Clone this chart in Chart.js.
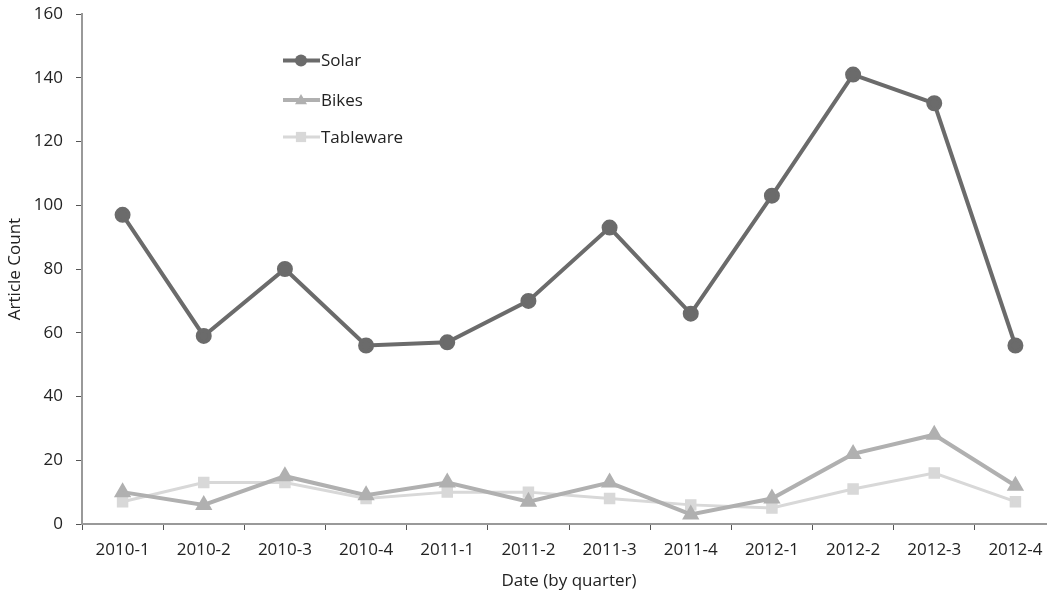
<!DOCTYPE html>
<html><head><meta charset="utf-8">
<script src="https://cdn.jsdelivr.net/npm/chart.js@4"></script>
<style>
html,body{margin:0;padding:0;overflow:hidden;background:#fff;width:1047px;height:591px;}
#wrap{position:absolute;left:0;top:0;width:1066px;height:591px;}
#c{display:block;width:1066px;height:591px;}
</style></head><body>
<div id="wrap"><canvas id="c" width="1066" height="591" style="width:1066px;height:591px"></canvas></div>
<script>
const categories = ["2010-1","2010-2","2010-3","2010-4","2011-1","2011-2","2011-3","2011-4","2012-1","2012-2","2012-3","2012-4"];
const solar = [97,59,80,56,57,70,93,66,103,141,132,56];
const bikes = [10,6,15,9,13,7,13,3,8,22,28,12];
const tableware = [7,13,13,8,10,10,8,6,5,11,16,7];
const yTicks = [0,20,40,60,80,100,120,140,160];

const FONT = "'Open Sans', 'Liberation Sans', sans-serif";
const FS = 17;

const legendPlugin = {
  id: 'insideLegend',
  afterDraw(chart) {
    const ctx = chart.ctx;
    const rows = [60.5, 100, 137];
    chart.data.datasets.forEach((ds, i) => {
      const y = rows[i];
      ctx.save();
      ctx.strokeStyle = ds.borderColor;
      ctx.lineWidth = ds.borderWidth;
      ctx.beginPath(); ctx.moveTo(283, y); ctx.lineTo(320, y); ctx.stroke();
      ctx.fillStyle = ds.pointBackgroundColor;
      const r = ds.pointRadius;
      ctx.beginPath();
      if (ds.pointStyle === 'circle') { ctx.arc(301, y, r, 0, Math.PI*2); }
      else if (ds.pointStyle === 'triangle') { ctx.moveTo(301, y - r); ctx.lineTo(301 + r, y + r*0.7); ctx.lineTo(301 - r, y + r*0.7); ctx.closePath(); }
      else { ctx.rect(301 - r*0.85, y - r*0.85, r*1.7, r*1.7); }
      ctx.fill();
      ctx.fillStyle = '#222';
      ctx.font = FS + "px " + FONT;
      ctx.textBaseline = 'middle';
      ctx.fillText(ds.label, 321, y + 1);
      ctx.restore();
    });
  }
};

new Chart(document.getElementById('c'), {
  type: 'line',
  data: {
    labels: categories,
    datasets: [
      {label:'Solar', data: solar, borderColor:'#6b6b6b', backgroundColor:'#6b6b6b', pointBackgroundColor:'#6b6b6b', pointBorderColor:'#6b6b6b', borderWidth:4, pointStyle:'circle', pointRadius:6, tension:0},
      {label:'Bikes', data: bikes, borderColor:'#b0b0b0', backgroundColor:'#b0b0b0', pointBackgroundColor:'#b0b0b0', pointBorderColor:'#b0b0b0', borderWidth:4, pointStyle:'triangle', pointRadius:6, tension:0},
      {label:'Tableware', data: tableware, borderColor:'#d8d8d8', backgroundColor:'#d8d8d8', pointBackgroundColor:'#d8d8d8', pointBorderColor:'#d8d8d8', borderWidth:3, pointStyle:'rect', pointRadius:6, tension:0}
    ]
  },
  options: {
    responsive: false,
    maintainAspectRatio: false,
    animation: false,
    layout: { padding: { top: 0, right: 0, left: 5, bottom: 0 } },
    plugins: { legend: { display:false }, tooltip: { enabled:false } },
    scales: {
      x: {
        type:'category', offset:true,
        afterFit(scale){ scale.height = 67; scale.paddingLeft = 0; scale.paddingRight = 0; },
        grid: { offset:true, drawOnChartArea:false, drawTicks:true, tickLength:6, color:'#555', lineWidth:1 },
        border: { display:true, color:'#999', width:2 },
        ticks: { color:'#222', font:{ size:FS, family:FONT }, padding:10, maxRotation:0, autoSkip:false },
        title: { display:true, text:'Date (by quarter)', color:'#222', font:{ size:FS, family:FONT }, padding:{top:8, bottom:0} }
      },
      y: {
        min:0, max:160,
        afterBuildTicks(axis){ axis.ticks = yTicks.map(v => ({value:v})); },
        afterFit(scale){ scale.width = 77; scale.paddingTop = 14; scale.paddingBottom = 0; },
        grid: { drawOnChartArea:false, drawTicks:true, tickLength:6, color:'#555' },
        border: { display:true, color:'#999', width:2 },
        ticks: { color:'#222', font:{ size:FS, family:FONT }, padding:13 },
        title: { display:true, text:'Article Count', color:'#222', font:{ size:FS, family:FONT }, padding:{top:0, bottom:9} }
      }
    }
  },
  plugins: [legendPlugin]
});
</script>
</body></html>
